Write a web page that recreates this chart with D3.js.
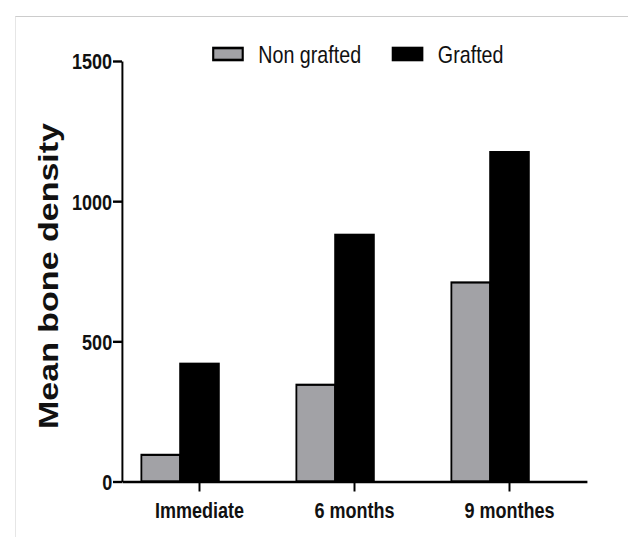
<!DOCTYPE html>
<html>
<head>
<meta charset="utf-8">
<script src="https://cdn.jsdelivr.net/npm/d3@7"></script>
<style>
  html, body { margin: 0; padding: 0; background: #fff; }
  svg { display: block; font-family: "Liberation Sans", Arial, sans-serif; }
</style>
</head>
<body>
<script>
(() => {
  // data
  const categories = ["Immediate", "6 months", "9 monthes"];
  const series     = ["Non grafted", "Grafted"];
  const nonGrafted = [95, 345, 710];
  const grafted    = [420, 880, 1175];
  const yTicks     = [0, 500, 1000, 1500];
  const colors     = ["#a2a2a6", "#000000"];

  const W = 628, H = 537;
  // the source picture is squeezed horizontally, so draw in a wider space and scale it
  const sx = 0.82;
  const IW = W / sx;

  const plot = { l: 122 / sx, r: 587 / sx, t: 61, b: 481.5 };

  const svg = d3.select("body").append("svg")
    .attr("width", W).attr("height", H);

  const g = svg.append("g").attr("transform", `scale(${sx},1)`);

  // faint frame of the original figure
  g.append("line")
    .attr("x1", 15 / sx).attr("x2", IW).attr("y1", 16.5).attr("y2", 16.5)
    .attr("stroke", "#cccccc").attr("stroke-width", 1.2);
  g.append("line")
    .attr("x1", 15.5 / sx).attr("x2", 15.5 / sx).attr("y1", 16.5).attr("y2", H)
    .attr("stroke", "#e6e6e6").attr("stroke-width", 1.2);

  const x = d3.scaleBand().domain(categories).range([plot.l, plot.r]).padding(0);
  const y = d3.scaleLinear().domain([0, 1500]).range([plot.b, plot.t]);

  const bw = x.step() * 0.25;
  // black bar sits on the tick, grey bar to its left
  const xs = d3.scaleBand().domain(series).range([-1.5 * bw, 0.5 * bw]);

  const rows = categories.map((c, i) => ({ cat: c, vals: [nonGrafted[i], grafted[i]] }));

  const groups = g.append("g").selectAll("g")
    .data(rows).join("g")
    .attr("transform", d => `translate(${x(d.cat) + x.bandwidth() / 2},0)`);

  groups.selectAll("rect")
    .data(d => d.vals.map((v, j) => ({ key: series[j], v, j })))
    .join("rect")
    .attr("x", d => xs(d.key))
    .attr("width", xs.bandwidth())
    .attr("y", d => y(d.v))
    .attr("height", d => y(0) - y(d.v))
    .attr("fill", d => colors[d.j])
    .attr("stroke", "#000")
    .attr("stroke-width", 2.2);

  // axes
  const yAxis = g.append("g")
    .attr("transform", `translate(${plot.l},0)`)
    .call(d3.axisLeft(y).tickValues(yTicks).tickFormat(d3.format("d"))
      .tickSize(11).tickSizeOuter(0).tickPadding(1));

  const xAxis = g.append("g")
    .attr("transform", `translate(0,${plot.b})`)
    .call(d3.axisBottom(x).tickSize(10).tickSizeOuter(0).tickPadding(11));

  [yAxis, xAxis].forEach(a => {
    a.select(".domain").attr("stroke", "#000").attr("stroke-width", 2.4);
    a.selectAll(".tick line").attr("stroke", "#000").attr("stroke-width", 2.4);
    a.selectAll(".tick text")
      .attr("fill", "#111")
      .style("font-weight", "bold")
      .style("font-size", "22px");
  });
  yAxis.selectAll(".tick text").attr("dy", "0.36em");

  // y title
  g.append("text")
    .attr("transform", `translate(${48 / sx},${276}) rotate(-90)`)
    .attr("text-anchor", "middle")
    .attr("dy", "0.36em")
    .style("font-weight", "bold")
    .style("font-size", "34px")
    .attr("fill", "#111")
    .text("Mean bone density");

  // legend
  const legendX = [260, 479];
  const legend = g.append("g").selectAll("g")
    .data(series).join("g")
    .attr("transform", (d, i) => `translate(${legendX[i]},48)`);

  legend.append("rect")
    .attr("width", 36).attr("height", 12)
    .attr("fill", (d, i) => colors[i])
    .attr("stroke", "#000").attr("stroke-width", 2.6);

  legend.append("text")
    .attr("x", 55)
    .attr("y", 6)
    .attr("dy", "0.36em")
    .style("font-size", "24px")
    .attr("fill", "#111")
    .text(d => d);
})();
</script>
</body>
</html>
